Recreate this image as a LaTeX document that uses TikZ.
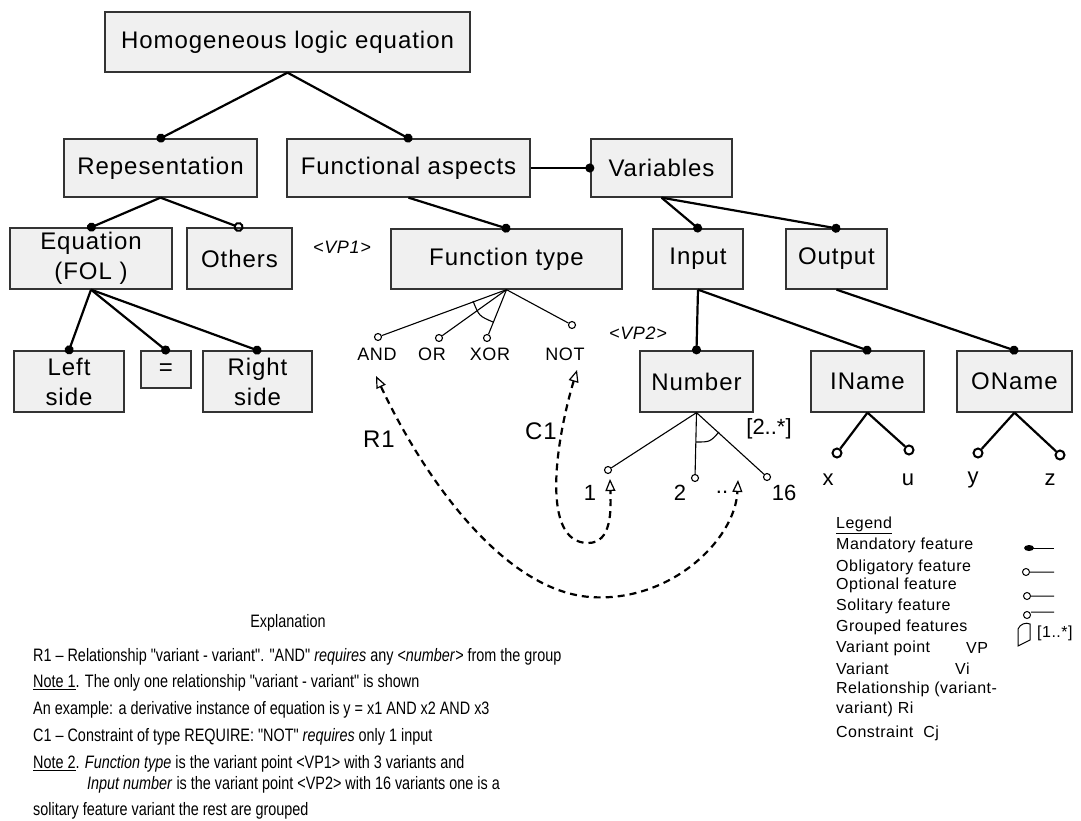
\documentclass[tikz,border=0pt]{standalone}
\usepackage{fontspec}
\usepackage{graphicx}
\setmainfont{Liberation Sans}
\newfontfamily\boxfont[LetterSpace=4]{Liberation Sans}
\newfontfamily\legfont[LetterSpace=3]{Liberation Sans}
\newfontfamily\quotefont[Ligatures=TeXOff]{Liberation Sans}
\usetikzlibrary{arrows.meta}
\definecolor{boxgray}{RGB}{240,240,240}
\newcommand{\narrow}[1]{\scalebox{0.8}[1]{#1}}
\newcommand{\dq}{{\quotefont\symbol{34}}}

\begin{document}
\begin{tikzpicture}[x=1pt,y=-1pt,
  feat/.style={draw=black!80,line width=1.3pt,fill=boxgray,minimum height=58pt,
    inner sep=0pt,font=\fontsize{24}{30}\boxfont,align=center},
  must/.style={line width=2.2pt,shorten >=-4pt,-{Circle[length=9pt]}},
  may/.style={line width=2.2pt,shorten >=-4pt,-{Circle[open,length=10pt,line width=2pt]}},
  alt/.style={line width=1.1pt},
  var/.style={circle,draw,line width=1.1pt,inner sep=0pt,minimum size=7pt,fill=white},
  leaf/.style={circle,draw,line width=2pt,inner sep=0pt,minimum size=9pt,fill=white},
  lbl/.style={font=\fontsize{18}{20}\boxfont},
  big/.style={font=\fontsize{22}{24}\selectfont},
  dep/.style={line width=2.2pt,dash pattern=on 7pt off 5pt,
    {Triangle[open,length=12pt,width=10pt,line width=1.2pt]}-{Triangle[open,length=12pt,width=10pt,line width=1.2pt]}},
  leg/.style={font=\fontsize{16}{18}\legfont,anchor=west,inner sep=0pt},
  txt/.style={font=\fontsize{18}{20}\selectfont,anchor=west,inner sep=0pt}
]
\useasboundingbox (0,0) rectangle (1081,821);

% feature boxes
\node[feat,minimum width=365pt,minimum height=60pt] (root) at (287.5,42) {Homogeneous logic equation};
\node[feat,minimum width=193pt] (rep) at (160.5,168) {Repesentation};
\node[feat,minimum width=243pt] (fa) at (408.5,168) {Functional aspects};
\node[feat,minimum width=141pt] (vars) at (661.5,168) {Variables};
\node[feat,minimum width=162pt,minimum height=61pt] (eq) at (91,258.5) {Equation\\(FOL )};
\node[feat,minimum width=105pt,minimum height=61pt] (oth) at (239.5,258.5) {Others};
\node[feat,minimum width=231pt,minimum height=60pt] (ft) at (506.5,259) {Function type};
\node[feat,minimum width=90pt,minimum height=60pt] (in) at (698,259) {Input};
\node[feat,minimum width=101pt,minimum height=60pt] (out) at (836.5,259) {Output};
\node[feat,minimum width=110pt,minimum height=61pt] (lside) at (69,381.5) {Left\\side};
\node[feat,minimum width=50pt,minimum height=37pt] (eqs) at (166,369.5) {=};
\node[feat,minimum width=109pt,minimum height=61pt] (rside) at (257.5,381.5) {Right\\side};
\node[feat,minimum width=113pt,minimum height=61pt] (num) at (696.5,381.5) {Number};
\node[feat,minimum width=113pt,minimum height=61pt] (iname) at (867.5,381.5) {IName};
\node[feat,minimum width=115pt,minimum height=61pt] (oname) at (1014.5,381.5) {OName};

% tree
\draw[must] (root.south) -- (rep.north);
\draw[must] (root.south) -- (fa.north);
\draw[must] (fa.east) -- (vars.west);
\draw[must] (rep.south) -- (eq.north);
\draw[may] (rep.south) -- (oth.north);
\draw[must] (eq.south) -- (lside.north);
\draw[must] (eq.south) -- (eqs.north);
\draw[must] (eq.south) -- (rside.north);
\draw[must] (fa.south) -- (ft.north);
\draw[must] (vars.south) -- (in.north);
\draw[must] (vars.south) -- (out.north);
\draw[must] (in.south) -- (num.north);
\draw[must] (in.south) -- (iname.north);
\draw[must] (out.south) -- (oname.north);

% variant points
\node[font=\fontsize{18}{20}\boxfont\itshape] (vp1) at (342,247) {<VP1>};
\node[font=\fontsize{18}{20}\boxfont\itshape] (vp2) at (638,333) {<VP2>};

% function type variants
\node[var] (vand) at (378,337) {};
\node[var] (vor) at (439,338) {};
\node[var] (vxor) at (487,338) {};
\node[var] (vnot) at (572,325) {};
\node[lbl] (land) at (377,354) {AND};
\node[lbl] (lor) at (432,354) {OR};
\node[lbl] (lxor) at (490,354) {XOR};
\node[lbl] (lnot) at (565,354) {NOT};
\foreach \v in {vand,vor,vxor,vnot}
  \draw[alt] (ft.south) -- (\v);
\draw[alt] (473,301) .. controls (479,316) .. (493,322);

% number variants
\node[var] (n1) at (608,470) {};
\node[var] (n2) at (695,478) {};
\node[var] (n16) at (767,477) {};
\node[big] (l1) at (590,493) {1};
\node[big] (l2) at (680,493) {2};
\node[big] (l16) at (784,493) {16};
\node[big] (ldots) at (722,492) {..};
\node[big] (card) at (769,429) {[2..*]};
\foreach \v in {n1,n2,n16}
  \draw[alt] (num.south) -- (\v);
\draw[alt] (696,442) .. controls (710,442) .. (719,432);

% name leaves
\node[leaf] (vx) at (837,453) {};
\node[leaf] (vu) at (909,450) {};
\node[leaf] (vy) at (978,453) {};
\node[leaf] (vz) at (1060,455) {};
\node[big] (lx) at (828,480) {x};
\node[big] (lu) at (908,480) {u};
\node[big] (ly) at (973,480) {y};
\node[big] (lz) at (1050,480) {z};
\draw[line width=2.2pt] (iname.south) -- (vx);
\draw[line width=2.2pt] (iname.south) -- (vu);
\draw[line width=2.2pt] (oname.south) -- (vy);
\draw[line width=2.2pt] (oname.south) -- (vz);

% relationship and constraint
\coordinate (andtip) at (376,376);
\coordinate (nottip) at (577,370);
\coordinate (onetip) at (610,479);
\coordinate (dotstip) at (738,480);
\draw[dep] (andtip) .. controls (420,470) and (500,590) .. (590,597)
  .. controls (670,603) and (735,540) .. (dotstip);
\draw[dep] (nottip) .. controls (556,440) and (540,543) .. (588,543)
  .. controls (612,543) and (611,510) .. (onetip);
\node[font=\fontsize{24}{26}\boxfont] (r1) at (379,439) {R1};
\node[font=\fontsize{24}{26}\boxfont] (c1) at (541,431) {C1};

% legend
\node[leg] (legt) at (836,525) {\underline{Legend}};
\foreach \t/\y [count=\i] in {Mandatory feature/545,Obligatory feature/567,
    Optional feature/585,Solitary feature/606,Grouped features/627,
    Variant point/648,Variant/669,Relationship (variant-/689,
    variant) Ri/709,Constraint\ \ Cj/733}
  \node[leg] (leg\i) at (836,\y) {\t};
\node[leg] (legvp) at (966,648) {VP};
\node[leg] (legvi) at (955,669) {Vi};
\draw[line width=1pt] (1030,548) -- (1054,548);
\fill (1029,548) ellipse (5pt and 3pt);
\draw[line width=1pt] (1026,572) circle (3.5pt) (1030,572) -- (1054,572);
\draw[line width=1pt] (1027,596) circle (3.5pt) (1031,596) -- (1054,596);
\draw[line width=1pt] (1027,615) circle (3.5pt) (1031,612) -- (1054,612);
\draw[line width=1pt] (1018,629) -- (1018,646) -- (1030,640) -- (1030,624)
  .. controls (1026,622) and (1020,624) .. (1018,629);
\node[leg] (leggr) at (1037,633) {[1..*]};

% explanation
\node[font=\fontsize{18}{20}\selectfont] (expl) at (288,623) {\narrow{Explanation}};
\node[txt] (e1) at (33,657) {\narrow{R1 -- Relationship \dq variant - variant\dq. \dq AND\dq\ \textit{requires} any <\textit{number}> from the group}};
\node[txt] (e2) at (33,683) {\narrow{\underline{Note 1}. The only one relationship \dq variant - variant\dq\ is shown}};
\node[txt] (e3) at (33,710) {\narrow{An example: a derivative instance of equation is y = x1 AND x2 AND x3}};
\node[txt] (e4) at (33,737) {\narrow{C1 -- Constraint of type REQUIRE: \dq NOT\dq\ \textit{requires} only 1 input}};
\node[txt] (e5) at (33,764) {\narrow{\underline{Note 2}. \textit{Function type} is the variant point <VP1> with 3 variants and}};
\node[txt] (e6) at (87,785) {\narrow{\textit{Input number} is the variant point <VP2> with 16 variants one is a}};
\node[txt] (e7) at (33,811) {\narrow{solitary feature variant the rest are grouped}};
\end{tikzpicture}
\end{document}
